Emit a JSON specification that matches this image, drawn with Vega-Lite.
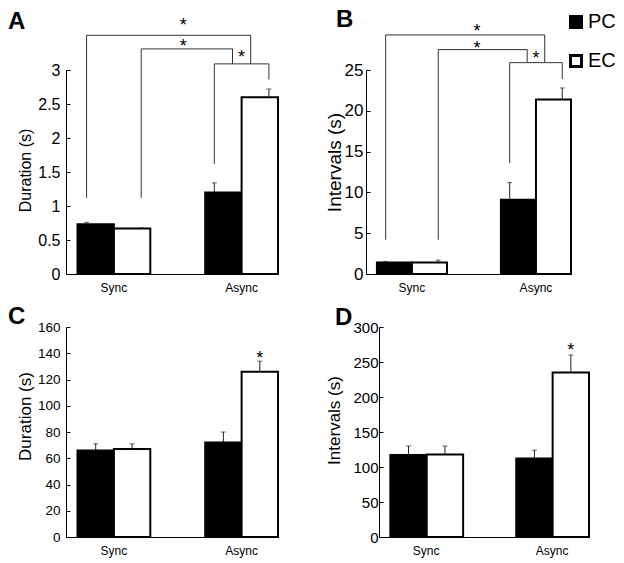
{
  "$schema": "https://vega.github.io/schema/vega-lite/v6.json",
  "background": "white",
  "padding": {"left": 8, "top": 8, "right": 4, "bottom": 4},
  "config": {
    "view": {"stroke": null},
    "font": "Liberation Sans",
    "axis": {"grid": false, "domainColor": "black", "tickColor": "black", "labelColor": "black", "titleColor": "black", "titleFontWeight": "normal", "labelFont": "Liberation Sans", "titleFont": "Liberation Sans", "labelOverlap": false, "labelBound": false},
    "axisY": {"titleFontSize": 17, "labelFontSize": 15, "tickCount": 20, "titleAngle": -90, "titleBaseline": "middle"},
    "title": {"font": "Liberation Sans", "color": "black", "fontSize": 24, "fontWeight": "bold", "anchor": "start", "frame": "group", "offset": 0},
    "legend": {"labelFont": "Liberation Sans"}
  },
  "datasets": {
    "bars": [
      {"panel": "A", "cond": "Sync", "series": "PC", "value": 0.73, "err": 0.76},
      {"panel": "A", "cond": "Sync", "series": "EC", "value": 0.67, "err": 0.68},
      {"panel": "A", "cond": "Async", "series": "PC", "value": 1.2, "err": 1.34},
      {"panel": "A", "cond": "Async", "series": "EC", "value": 2.6, "err": 2.72},
      {"panel": "B", "cond": "Sync", "series": "PC", "value": 1.4, "err": 1.55},
      {"panel": "B", "cond": "Sync", "series": "EC", "value": 1.4, "err": 1.7},
      {"panel": "B", "cond": "Async", "series": "PC", "value": 9.1, "err": 11.2},
      {"panel": "B", "cond": "Async", "series": "EC", "value": 21.4, "err": 22.8},
      {"panel": "C", "cond": "Sync", "series": "PC", "value": 66, "err": 71},
      {"panel": "C", "cond": "Sync", "series": "EC", "value": 67, "err": 71},
      {"panel": "C", "cond": "Async", "series": "PC", "value": 72, "err": 80},
      {"panel": "C", "cond": "Async", "series": "EC", "value": 126, "err": 134},
      {"panel": "D", "cond": "Sync", "series": "PC", "value": 117, "err": 130},
      {"panel": "D", "cond": "Sync", "series": "EC", "value": 118, "err": 130},
      {"panel": "D", "cond": "Async", "series": "PC", "value": 112, "err": 124},
      {"panel": "D", "cond": "Async", "series": "EC", "value": 235, "err": 260}
    ],
    "brackets": [
      {"panel": "A", "bracket": "outer", "ord": 1, "cond": "Sync", "pos": "PC", "y": 1.12},
      {"panel": "A", "bracket": "outer", "ord": 2, "cond": "Sync", "pos": "PC", "y": 3.51},
      {"panel": "A", "bracket": "outer", "ord": 3, "cond": "Async", "pos": "R", "y": 3.51},
      {"panel": "A", "bracket": "outer", "ord": 4, "cond": "Async", "pos": "R", "y": 3.09},
      {"panel": "A", "bracket": "middle", "ord": 1, "cond": "Sync", "pos": "EC", "y": 1.12},
      {"panel": "A", "bracket": "middle", "ord": 2, "cond": "Sync", "pos": "EC", "y": 3.31},
      {"panel": "A", "bracket": "middle", "ord": 3, "cond": "Async", "pos": "L", "y": 3.31},
      {"panel": "A", "bracket": "middle", "ord": 4, "cond": "Async", "pos": "L", "y": 3.09},
      {"panel": "A", "bracket": "inner", "ord": 1, "cond": "Async", "pos": "PC", "y": 1.62},
      {"panel": "A", "bracket": "inner", "ord": 2, "cond": "Async", "pos": "PC", "y": 3.09},
      {"panel": "A", "bracket": "inner", "ord": 3, "cond": "Async", "pos": "EC", "y": 3.09},
      {"panel": "A", "bracket": "inner", "ord": 4, "cond": "Async", "pos": "EC", "y": 2.86},
      {"panel": "B", "bracket": "outer", "ord": 1, "cond": "Sync", "pos": "PC", "y": 4.2},
      {"panel": "B", "bracket": "outer", "ord": 2, "cond": "Sync", "pos": "PC", "y": 29.3},
      {"panel": "B", "bracket": "outer", "ord": 3, "cond": "Async", "pos": "R", "y": 29.3},
      {"panel": "B", "bracket": "outer", "ord": 4, "cond": "Async", "pos": "R", "y": 25.9},
      {"panel": "B", "bracket": "middle", "ord": 1, "cond": "Sync", "pos": "EC", "y": 4.2},
      {"panel": "B", "bracket": "middle", "ord": 2, "cond": "Sync", "pos": "EC", "y": 27.5},
      {"panel": "B", "bracket": "middle", "ord": 3, "cond": "Async", "pos": "L", "y": 27.5},
      {"panel": "B", "bracket": "middle", "ord": 4, "cond": "Async", "pos": "L", "y": 25.9},
      {"panel": "B", "bracket": "inner", "ord": 1, "cond": "Async", "pos": "PC", "y": 13.6},
      {"panel": "B", "bracket": "inner", "ord": 2, "cond": "Async", "pos": "PC", "y": 25.9},
      {"panel": "B", "bracket": "inner", "ord": 3, "cond": "Async", "pos": "EC", "y": 25.9},
      {"panel": "B", "bracket": "inner", "ord": 4, "cond": "Async", "pos": "EC", "y": 23.9}
    ],
    "stars": [
      {"panel": "A", "kind": "between", "cond": "Async", "pos": "M", "y": 3.57},
      {"panel": "A", "kind": "between", "cond": "Async", "pos": "M", "y": 3.26},
      {"panel": "A", "kind": "inner", "cond": "Async", "pos": "M", "y": 3.1},
      {"panel": "B", "kind": "between", "cond": "Async", "pos": "M", "y": 29.0},
      {"panel": "B", "kind": "between", "cond": "Async", "pos": "M", "y": 26.95},
      {"panel": "B", "kind": "inner", "cond": "Async", "pos": "M", "y": 25.7},
      {"panel": "C", "kind": "inner", "cond": "Async", "pos": "EC", "y": 132},
      {"panel": "D", "kind": "inner", "cond": "Async", "pos": "EC", "y": 258}
    ]
  },
  "spacing": 12,
  "vconcat": [
    {
      "spacing": 88,
      "bounds": "flush",
      "hconcat": [
        {
          "width": 212, "height": 204,
          "title": {"text": "A", "dx": -58, "dy": 21},
          "resolve": {"scale": {"xOffset": "independent"}},
          "encoding": {
            "x": {"field": "cond", "type": "nominal", "scale": {"domain": ["Sync", "Async"], "paddingInner": 0.43, "paddingOuter": 0.045, "align": 1}, "axis": {"title": null, "ticks": false, "labelFontSize": 12, "labelPadding": 8, "labelAngle": 0}}
          },
          "layer": [
            {
              "data": {"name": "bars"}, "transform": [{"filter": "datum.panel === 'A'"}],
              "mark": {"type": "bar", "stroke": "black", "strokeWidth": 2},
              "encoding": {
                "xOffset": {"field": "series", "type": "nominal", "scale": {"domain": ["PC", "EC"], "paddingInner": 0, "paddingOuter": 0}},
                "y": {"field": "value", "type": "quantitative", "scale": {"domain": [0, 3], "nice": false}, "axis": {"title": "Duration (s)", "values": [0, 0.5, 1, 1.5, 2, 2.5, 3], "tickCount": 20, "format": "~g", "labelFontSize": 16, "titleFontSize": 16, "tickSize": -4, "labelPadding": 10, "titleX": -41, "titleY": 100, "titleBaseline": "middle", "titleAngle": -90}},
                "fill": {"field": "series", "type": "nominal", "scale": {"domain": ["PC", "EC"], "range": ["black", "white"]}, "legend": {"title": null, "orient": "none", "legendX": 500, "legendY": -58, "symbolType": "square", "symbolSize": 121, "symbolStrokeColor": "black", "symbolStrokeWidth": 3, "labelFontSize": 20, "rowPadding": 15, "padding": 0, "labelOffset": 2, "labelColor": "black"}}
              }
            },
            {
              "data": {"name": "bars"}, "transform": [{"filter": "datum.panel === 'A'"}],
              "mark": {"type": "rule", "color": "#222", "strokeWidth": 1},
              "encoding": {
                "xOffset": {"field": "series", "type": "nominal", "scale": {"type": "point", "domain": ["PC", "p1", "L", "M", "R", "p2", "EC"], "padding": 3}},
                "y": {"field": "value", "type": "quantitative", "scale": {"domain": [0, 3], "nice": false}},
                "y2": {"field": "err"}
              }
            },
            {
              "data": {"name": "bars"}, "transform": [{"filter": "datum.panel === 'A'"}],
              "mark": {"type": "tick", "orient": "horizontal", "size": 5, "thickness": 1, "color": "#222"},
              "encoding": {
                "xOffset": {"field": "series", "type": "nominal", "scale": {"type": "point", "domain": ["PC", "p1", "L", "M", "R", "p2", "EC"], "padding": 3}},
                "y": {"field": "err", "type": "quantitative", "scale": {"domain": [0, 3], "nice": false}}
              }
            },
            {
              "data": {"name": "brackets"}, "transform": [{"filter": "datum.panel === 'A'"}],
              "mark": {"type": "line", "color": "#333", "strokeWidth": 1},
              "encoding": {
                "xOffset": {"field": "pos", "type": "nominal", "scale": {"type": "point", "domain": ["PC", "p1", "L", "M", "R", "p2", "EC"], "padding": 3}},
                "y": {"field": "y", "type": "quantitative", "scale": {"domain": [0, 3], "nice": false}},
                "detail": {"field": "bracket"},
                "order": {"field": "ord"}
              }
            },
            {
              "data": {"name": "stars"}, "transform": [{"filter": "datum.panel === 'A' && datum.kind === 'between'"}],
              "mark": {"type": "text", "text": "*", "fontSize": 18, "baseline": "alphabetic", "color": "black"},
              "encoding": {
                "x": {"field": "cond", "type": "nominal", "bandPosition": -0.3},
                "y": {"field": "y", "type": "quantitative", "scale": {"domain": [0, 3], "nice": false}}
              }
            },
            {
              "data": {"name": "stars"}, "transform": [{"filter": "datum.panel === 'A' && datum.kind === 'inner'"}],
              "mark": {"type": "text", "text": "*", "fontSize": 18, "baseline": "alphabetic", "color": "black"},
              "encoding": {
                "xOffset": {"field": "pos", "type": "nominal", "scale": {"type": "point", "domain": ["PC", "p1", "L", "M", "R", "p2", "EC"], "padding": 3}},
                "y": {"field": "y", "type": "quantitative", "scale": {"domain": [0, 3], "nice": false}}
              }
            }
          ]
        },
        {
          "width": 205, "height": 204,
          "title": {"text": "B", "dx": -30, "dy": 13},
          "resolve": {"scale": {"xOffset": "independent"}},
          "encoding": {
            "x": {"field": "cond", "type": "nominal", "scale": {"domain": ["Sync", "Async"], "paddingInner": 0.435, "paddingOuter": 0.044, "align": 1}, "axis": {"title": null, "ticks": false, "labelFontSize": 12, "labelPadding": 8, "labelAngle": 0}}
          },
          "layer": [
            {
              "data": {"name": "bars"}, "transform": [{"filter": "datum.panel === 'B'"}],
              "mark": {"type": "bar", "stroke": "black", "strokeWidth": 2},
              "encoding": {
                "xOffset": {"field": "series", "type": "nominal", "scale": {"domain": ["PC", "EC"], "paddingInner": 0, "paddingOuter": 0}},
                "y": {"field": "value", "type": "quantitative", "scale": {"domain": [0, 25], "nice": false}, "axis": {"title": "Intervals (s)", "values": [0, 5, 10, 15, 20, 25], "tickCount": 20, "labelFontSize": 17, "titleFontSize": 19, "tickSize": -4, "labelPadding": 7, "titleX": -32, "titleY": 92, "titleBaseline": "middle", "titleAngle": -90}},
                "fill": {"field": "series", "type": "nominal", "scale": {"domain": ["PC", "EC"], "range": ["black", "white"]}, "legend": {"title": null, "orient": "none", "legendX": 500, "legendY": -58, "symbolType": "square", "symbolSize": 121, "symbolStrokeColor": "black", "symbolStrokeWidth": 3, "labelFontSize": 20, "rowPadding": 15, "padding": 0, "labelOffset": 2, "labelColor": "black"}}
              }
            },
            {
              "data": {"name": "bars"}, "transform": [{"filter": "datum.panel === 'B'"}],
              "mark": {"type": "rule", "color": "#222", "strokeWidth": 1},
              "encoding": {
                "xOffset": {"field": "series", "type": "nominal", "scale": {"type": "point", "domain": ["PC", "p1", "L", "M", "R", "p2", "EC"], "padding": 3}},
                "y": {"field": "value", "type": "quantitative", "scale": {"domain": [0, 25], "nice": false}},
                "y2": {"field": "err"}
              }
            },
            {
              "data": {"name": "bars"}, "transform": [{"filter": "datum.panel === 'B'"}],
              "mark": {"type": "tick", "orient": "horizontal", "size": 5, "thickness": 1, "color": "#222"},
              "encoding": {
                "xOffset": {"field": "series", "type": "nominal", "scale": {"type": "point", "domain": ["PC", "p1", "L", "M", "R", "p2", "EC"], "padding": 3}},
                "y": {"field": "err", "type": "quantitative", "scale": {"domain": [0, 25], "nice": false}}
              }
            },
            {
              "data": {"name": "brackets"}, "transform": [{"filter": "datum.panel === 'B'"}],
              "mark": {"type": "line", "color": "#333", "strokeWidth": 1},
              "encoding": {
                "xOffset": {"field": "pos", "type": "nominal", "scale": {"type": "point", "domain": ["PC", "p1", "L", "M", "R", "p2", "EC"], "padding": 3}},
                "y": {"field": "y", "type": "quantitative", "scale": {"domain": [0, 25], "nice": false}},
                "detail": {"field": "bracket"},
                "order": {"field": "ord"}
              }
            },
            {
              "data": {"name": "stars"}, "transform": [{"filter": "datum.panel === 'B' && datum.kind === 'between'"}],
              "mark": {"type": "text", "text": "*", "fontSize": 18, "baseline": "alphabetic", "color": "black"},
              "encoding": {
                "x": {"field": "cond", "type": "nominal", "bandPosition": -0.34},
                "y": {"field": "y", "type": "quantitative", "scale": {"domain": [0, 25], "nice": false}}
              }
            },
            {
              "data": {"name": "stars"}, "transform": [{"filter": "datum.panel === 'B' && datum.kind === 'inner'"}],
              "mark": {"type": "text", "text": "*", "fontSize": 18, "baseline": "alphabetic", "color": "black"},
              "encoding": {
                "xOffset": {"field": "pos", "type": "nominal", "scale": {"type": "point", "domain": ["PC", "p1", "L", "M", "R", "p2", "EC"], "padding": 3}},
                "y": {"field": "y", "type": "quantitative", "scale": {"domain": [0, 25], "nice": false}}
              }
            }
          ]
        }
      ]
    },
    {
      "spacing": 101,
      "bounds": "flush",
      "hconcat": [
        {
          "width": 212, "height": 210,
          "title": {"text": "C", "dx": -58, "dy": 13},
          "encoding": {
            "x": {"field": "cond", "type": "nominal", "scale": {"domain": ["Sync", "Async"], "paddingInner": 0.43, "paddingOuter": 0.045, "align": 1}, "axis": {"title": null, "ticks": false, "labelFontSize": 12, "labelPadding": 8, "labelAngle": 0}}
          },
          "layer": [
            {
              "data": {"name": "bars"}, "transform": [{"filter": "datum.panel === 'C'"}],
              "mark": {"type": "bar", "stroke": "black", "strokeWidth": 2},
              "encoding": {
                "xOffset": {"field": "series", "type": "nominal", "scale": {"domain": ["PC", "EC"], "paddingInner": 0, "paddingOuter": 0}},
                "y": {"field": "value", "type": "quantitative", "scale": {"domain": [0, 160], "nice": false}, "axis": {"title": "Duration (s)", "values": [0, 20, 40, 60, 80, 100, 120, 140, 160], "tickCount": 20, "labelFontSize": 13.5, "titleFontSize": 17, "tickSize": -4, "labelPadding": 10, "titleX": -41, "titleY": 89, "titleBaseline": "middle", "titleAngle": -90}},
                "fill": {"field": "series", "type": "nominal", "scale": {"domain": ["PC", "EC"], "range": ["black", "white"]}, "legend": {"title": null, "orient": "none", "legendX": 500, "legendY": -58, "symbolType": "square", "symbolSize": 121, "symbolStrokeColor": "black", "symbolStrokeWidth": 3, "labelFontSize": 20, "rowPadding": 15, "padding": 0, "labelOffset": 2, "labelColor": "black"}}
              }
            },
            {
              "data": {"name": "bars"}, "transform": [{"filter": "datum.panel === 'C'"}],
              "mark": {"type": "rule", "color": "#222", "strokeWidth": 1},
              "encoding": {
                "xOffset": {"field": "series", "type": "nominal"},
                "y": {"field": "value", "type": "quantitative", "scale": {"domain": [0, 160], "nice": false}},
                "y2": {"field": "err"}
              }
            },
            {
              "data": {"name": "bars"}, "transform": [{"filter": "datum.panel === 'C'"}],
              "mark": {"type": "tick", "orient": "horizontal", "size": 5, "thickness": 1, "color": "#222"},
              "encoding": {
                "xOffset": {"field": "series", "type": "nominal"},
                "y": {"field": "err", "type": "quantitative", "scale": {"domain": [0, 160], "nice": false}}
              }
            },
            {
              "data": {"name": "stars"}, "transform": [{"filter": "datum.panel === 'C'"}],
              "mark": {"type": "text", "text": "*", "fontSize": 18, "baseline": "alphabetic", "color": "black"},
              "encoding": {
                "xOffset": {"field": "pos", "type": "nominal"},
                "y": {"field": "y", "type": "quantitative", "scale": {"domain": [0, 160], "nice": false}}
              }
            }
          ]
        },
        {
          "width": 209, "height": 210,
          "title": {"text": "D", "dx": -44, "dy": 14},
          "encoding": {
            "x": {"field": "cond", "type": "nominal", "scale": {"domain": ["Sync", "Async"], "paddingInner": 0.43, "paddingOuter": 0.045, "align": 1}, "axis": {"title": null, "ticks": false, "labelFontSize": 12, "labelPadding": 8, "labelAngle": 0}}
          },
          "layer": [
            {
              "data": {"name": "bars"}, "transform": [{"filter": "datum.panel === 'D'"}],
              "mark": {"type": "bar", "stroke": "black", "strokeWidth": 2},
              "encoding": {
                "xOffset": {"field": "series", "type": "nominal", "scale": {"domain": ["PC", "EC"], "paddingInner": 0, "paddingOuter": 0}},
                "y": {"field": "value", "type": "quantitative", "scale": {"domain": [0, 300], "nice": false}, "axis": {"title": "Intervals (s)", "values": [0, 50, 100, 150, 200, 250, 300], "tickCount": 20, "labelFontSize": 15, "titleFontSize": 17, "tickSize": -4, "labelPadding": 5, "titleX": -45, "titleY": 93, "titleBaseline": "middle", "titleAngle": -90}},
                "fill": {"field": "series", "type": "nominal", "scale": {"domain": ["PC", "EC"], "range": ["black", "white"]}, "legend": {"title": null, "orient": "none", "legendX": 500, "legendY": -58, "symbolType": "square", "symbolSize": 121, "symbolStrokeColor": "black", "symbolStrokeWidth": 3, "labelFontSize": 20, "rowPadding": 15, "padding": 0, "labelOffset": 2, "labelColor": "black"}}
              }
            },
            {
              "data": {"name": "bars"}, "transform": [{"filter": "datum.panel === 'D'"}],
              "mark": {"type": "rule", "color": "#222", "strokeWidth": 1},
              "encoding": {
                "xOffset": {"field": "series", "type": "nominal"},
                "y": {"field": "value", "type": "quantitative", "scale": {"domain": [0, 300], "nice": false}},
                "y2": {"field": "err"}
              }
            },
            {
              "data": {"name": "bars"}, "transform": [{"filter": "datum.panel === 'D'"}],
              "mark": {"type": "tick", "orient": "horizontal", "size": 5, "thickness": 1, "color": "#222"},
              "encoding": {
                "xOffset": {"field": "series", "type": "nominal"},
                "y": {"field": "err", "type": "quantitative", "scale": {"domain": [0, 300], "nice": false}}
              }
            },
            {
              "data": {"name": "stars"}, "transform": [{"filter": "datum.panel === 'D'"}],
              "mark": {"type": "text", "text": "*", "fontSize": 18, "baseline": "alphabetic", "color": "black"},
              "encoding": {
                "xOffset": {"field": "pos", "type": "nominal"},
                "y": {"field": "y", "type": "quantitative", "scale": {"domain": [0, 300], "nice": false}}
              }
            }
          ]
        }
      ]
    }
  ]
}
